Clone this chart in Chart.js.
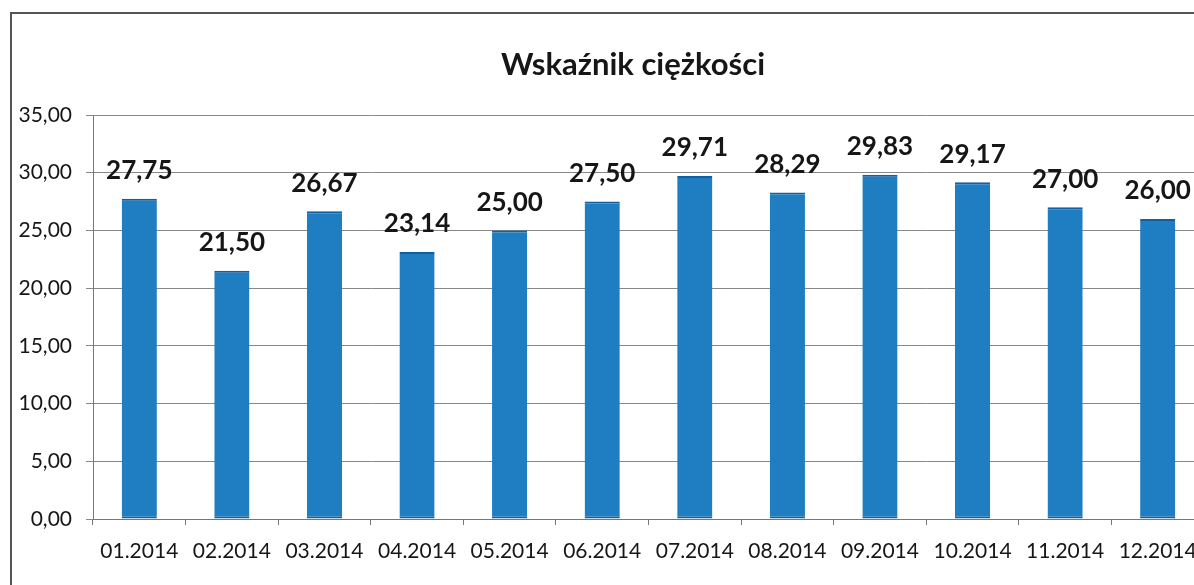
<!DOCTYPE html>
<html>
<head>
<meta charset="utf-8">
<script src="https://cdn.jsdelivr.net/npm/chart.js@4"></script>
<style>
    html, body { margin: 0; padding: 0; background: #fff; overflow: hidden; width: 1194px; height: 585px; }
    /* the original is cropped on the right, so the canvas runs past the window edge */
    canvas { display: block; width: 1210px; height: 585px; }
</style>
</head>
<body>
<canvas id="chart" width="1210" height="585"></canvas>
<script>
// Chart data
const chartTitle = 'Wskaźnik ciężkości';
const months = ['01.2014', '02.2014', '03.2014', '04.2014', '05.2014', '06.2014',
                '07.2014', '08.2014', '09.2014', '10.2014', '11.2014', '12.2014'];
const values = [27.75, 21.50, 26.67, 23.14, 25.00, 27.50, 29.71, 28.29, 29.83, 29.17, 27.00, 26.00];
const yTicks = [0, 5, 10, 15, 20, 25, 30, 35];

const textColor = '#161616';
const fontFamily = 'Lato, "Open Sans", sans-serif';

function plFormat(v) {
    return v.toFixed(2).replace('.', ',');
}

// draws the value above each bar
const valueLabels = {
    id: 'valueLabels',
    afterDatasetsDraw(chart) {
        const ctx = chart.ctx;
        const meta = chart.getDatasetMeta(0);
        ctx.save();
        ctx.font = 'bold 26px ' + fontFamily;
        ctx.fillStyle = textColor;
        ctx.textAlign = 'center';
        ctx.textBaseline = 'bottom';
        meta.data.forEach((bar, i) => {
            ctx.fillText(plFormat(values[i]), bar.x, bar.y - 15);
        });
        ctx.restore();
    }
};

// outer frame (only left and top edges are visible in the crop) and title
const framePlugin = {
    id: 'framePlugin',
    beforeDraw(chart) {
        const ctx = chart.ctx;
        ctx.save();
        ctx.strokeStyle = '#555';
        ctx.lineWidth = 2;
        ctx.beginPath();
        ctx.moveTo(11, chart.height);
        ctx.lineTo(11, 13);
        ctx.lineTo(chart.width, 13);
        ctx.stroke();
        ctx.restore();
    },
    afterDraw(chart) {
        const ctx = chart.ctx;
        ctx.save();
        ctx.font = 'bold 31px ' + fontFamily;
        ctx.fillStyle = textColor;
        ctx.textAlign = 'center';
        ctx.textBaseline = 'middle';
        ctx.fillText(chartTitle, 633, 65);
        ctx.restore();
    }
};

function initChart() {
    const ctx = document.getElementById('chart').getContext('2d');
    new Chart(ctx, {
        type: 'bar',
        data: {
            labels: months,
            datasets: [{
                data: values,
                backgroundColor: '#1f7dc2',
                borderColor: '#13609e',
                borderWidth: { top: 2, bottom: 2, left: 0, right: 0 },
                borderSkipped: false,
                categoryPercentage: 1,
                barPercentage: 0.38
            }]
        },
        options: {
            responsive: false,
            animation: false,
            devicePixelRatio: 1,
            layout: { padding: { left: 0, right: 6, top: 115, bottom: 26 } },
            plugins: {
                legend: { display: false },
                tooltip: { enabled: false },
                title: { display: false }
            },
            scales: {
                x: {
                    grid: {
                        offset: true,
                        drawOnChartArea: false,
                        drawTicks: true,
                        tickLength: 6,
                        color: '#777'
                    },
                    border: { color: '#777', width: 1 },
                    ticks: {
                        color: textColor,
                        padding: 14,
                        maxRotation: 0,
                        autoSkip: false,
                        font: { family: fontFamily, size: 21 }
                    },
                    afterFit(scale) {
                        scale.height = 40;
                        scale.paddingLeft = 0;
                        scale.paddingRight = 0;
                    }
                },
                y: {
                    min: 0,
                    max: 35,
                    afterBuildTicks(scale) {
                        scale.ticks = yTicks.map(v => ({ value: v }));
                    },
                    grid: {
                        color: '#888',
                        lineWidth: 1,
                        drawTicks: true,
                        tickLength: 7
                    },
                    border: { color: '#777', width: 1 },
                    ticks: {
                        color: textColor,
                        padding: 14,
                        font: { family: fontFamily, size: 21 },
                        callback: (v) => plFormat(v)
                    },
                    afterFit(scale) { scale.width = 93; }
                }
            }
        },
        plugins: [valueLabels, framePlugin]
    });
}

window.onload = initChart;
</script>
</body>
</html>
